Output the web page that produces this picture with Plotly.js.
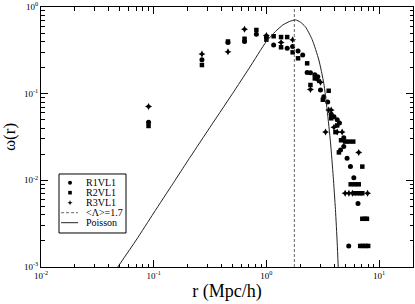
<!DOCTYPE html>
<html>
<head>
<meta charset="utf-8">
<script src="https://cdn.plot.ly/plotly-3.0.1.min.js"></script>
<style>html,body{margin:0;padding:0;background:#fff;}#chart{width:415px;height:304px;}</style>
</head>
<body>
<div id="chart"></div>
<script>
// ---- data ----
const seriesNames = ["R1VL1", "R2VL1", "R3VL1", "&lt;Λ&gt;=1.7", "Poisson"];

const r1_x = [0.09, 0.268, 0.456, 0.64, 0.815, 1.0, 1.16, 1.53, 1.71, 1.91, 2.1, 2.3, 2.46, 2.69, 2.86, 3.02, 3.23, 3.5, 3.76, 3.98, 4.25, 4.45, 4.55, 4.86, 4.86, 5.2, 5.57, 5.97, 6.5, 5.38];
const r1_y = [0.0467, 0.247, 0.39, 0.40, 0.484, 0.45, 0.365, 0.334, 0.35, 0.31, 0.28, 0.175, 0.174, 0.165, 0.157, 0.11, 0.092, 0.08, 0.058, 0.054, 0.05, 0.046, 0.0224, 0.031, 0.0245, 0.018, 0.0144, 0.0107, 0.0054, 0.00175];

const r2_x = [0.09, 0.268, 0.456, 0.64, 0.815, 1.0, 1.16, 1.35, 1.35, 1.53, 1.71, 1.91, 2.3, 2.46, 2.69, 3.17, 3.57, 3.76, 4.1, 4.25, 4.4, 4.6, 5.0, 5.4, 5.9, 5.6, 6.1, 6.6, 6.0, 6.4, 6.8, 7.1, 7.1, 7.1, 7.5, 7.8, 6.8, 7.2, 7.6, 8.0];
const r2_y = [0.0424, 0.214, 0.40, 0.43, 0.543, 0.42, 0.46, 0.45, 0.343, 0.45, 0.30, 0.256, 0.224, 0.126, 0.15, 0.085, 0.108, 0.052, 0.036, 0.043, 0.021, 0.029, 0.028, 0.028, 0.028, 0.009, 0.009, 0.009, 0.0071, 0.0071, 0.0071, 0.0071, 0.0144, 0.0036, 0.0036, 0.0036, 0.00175, 0.00175, 0.00175, 0.00175];

const r3_x = [0.09, 0.268, 0.456, 0.64, 1.0, 1.35, 1.71, 2.46, 2.86, 3.02, 3.35, 3.57, 3.76, 3.98, 4.25, 4.7, 5.0, 5.4, 5.81, 6.6, 7.9];
const r3_y = [0.071, 0.287, 0.305, 0.552, 0.47, 0.39, 0.42, 0.112, 0.144, 0.135, 0.036, 0.065, 0.065, 0.041, 0.036, 0.036, 0.0071, 0.0071, 0.0071, 0.021, 0.0071];

const lambdaMean = 1.77;
const lambdaSpan = [0.001, 1];

const poisson_x = [0.048, 0.07, 0.1, 0.15, 0.2, 0.3, 0.5, 0.7, 1.0, 1.2, 1.4, 1.6, 1.81, 2.0, 2.22, 2.55, 2.92, 3.23, 3.46, 3.71, 3.92, 4.1, 4.25, 4.34];
const poisson_y = [0.001, 0.00205, 0.0042, 0.0094, 0.0167, 0.037, 0.1, 0.195, 0.40, 0.52, 0.62, 0.68, 0.71, 0.67, 0.59, 0.42, 0.245, 0.132, 0.065, 0.027, 0.011, 0.0046, 0.0019, 0.001];

const xTickVals = [0.01, 0.1, 1, 10];
const xTickText = ["10<sup>-2</sup>", "10<sup>-1</sup>", "10<sup>0</sup>", "10<sup>1</sup>"];
const yTickVals = [0.001, 0.01, 0.1, 1];
const yTickText = ["10<sup>-3</sup>", "10<sup>-2</sup>", "10<sup>-1</sup>", "10<sup>0</sup>"];

// ---- traces ----
const FONT = "Liberation Serif, Times New Roman, serif";
const traces = [
  {x: r1_x, y: r1_y, mode: "markers", type: "scatter", name: seriesNames[0],
   marker: {symbol: "circle", size: 5, color: "#000"}},
  {x: r2_x, y: r2_y, mode: "markers", type: "scatter", name: seriesNames[1],
   marker: {symbol: "square", size: 4.5, color: "#000"}},
  {x: r3_x, y: r3_y, mode: "markers", type: "scatter", name: seriesNames[2],
   marker: {symbol: "star-diamond", size: 5, color: "#000"}},
  {x: [lambdaMean, lambdaMean], y: lambdaSpan, mode: "lines", type: "scatter", name: seriesNames[3],
   line: {color: "#666", width: 1, dash: "3px,2px"}},
  {x: poisson_x, y: poisson_y, mode: "lines", type: "scatter", name: seriesNames[4],
   line: {color: "#222", width: 1, shape: "spline", smoothing: 0.6}}
];

// ---- manual legend (box, glyphs, labels) ----
const rowsY = [0.3242, 0.2858, 0.2473, 0.2088, 0.1704];
const glyphX = 0.078, textX = 0.116;
const shapes = [
  {type: "rect", xref: "paper", yref: "paper", x0: 0.0484, x1: 0.2285, y0: 0.1308, y1: 0.3577,
   line: {color: "#000", width: 1}, fillcolor: "#fff", layer: "above"},
  {type: "circle", xref: "paper", yref: "paper", xsizemode: "pixel", ysizemode: "pixel",
   xanchor: glyphX, yanchor: rowsY[0], x0: -2, x1: 2, y0: -2, y1: 2,
   fillcolor: "#000", line: {width: 0}, layer: "above"},
  {type: "rect", xref: "paper", yref: "paper", xsizemode: "pixel", ysizemode: "pixel",
   xanchor: glyphX, yanchor: rowsY[1], x0: -1.8, x1: 1.8, y0: -1.8, y1: 1.8,
   fillcolor: "#000", line: {width: 0}, layer: "above"},
  {type: "path", xref: "paper", yref: "paper", xsizemode: "pixel", ysizemode: "pixel",
   xanchor: glyphX, yanchor: rowsY[2],
   path: "M0,-2.6 L0.7,-0.7 L2.6,0 L0.7,0.7 L0,2.6 L-0.7,0.7 L-2.6,0 L-0.7,-0.7 Z",
   fillcolor: "#000", line: {width: 0}, layer: "above"},
  {type: "line", xref: "paper", yref: "paper", x0: 0.054, x1: 0.0995, y0: rowsY[3], y1: rowsY[3],
   line: {color: "#666", width: 1, dash: "3px,2px"}, layer: "above"},
  {type: "line", xref: "paper", yref: "paper", x0: 0.054, x1: 0.0995, y0: rowsY[4], y1: rowsY[4],
   line: {color: "#222", width: 1}, layer: "above"}
];
const annotations = seriesNames.map((n, i) => ({
  xref: "paper", yref: "paper", x: textX, y: rowsY[i], xanchor: "left", yanchor: "middle",
  text: n, showarrow: false, font: {family: FONT, size: 10, color: "#000"}
}));

const axisCommon = {
  type: "log", showgrid: false, zeroline: false,
  showline: true, linecolor: "#000", linewidth: 1, mirror: "allticks",
  ticks: "inside", ticklen: 7, tickcolor: "#000", tickwidth: 1,
  tickmode: "array",
  tickfont: {family: FONT, size: 9, color: "#000"},
  minor: {ticks: "inside", ticklen: 3.5, tickcolor: "#000", tickwidth: 1, dtick: "D1", showgrid: false}
};

const layout = {
  width: 415, height: 304,
  margin: {l: 41, r: 2, t: 7, b: 37},
  paper_bgcolor: "#fff", plot_bgcolor: "#fff",
  showlegend: false,
  font: {family: FONT, color: "#000"},
  xaxis: Object.assign({}, axisCommon, {
    range: [-2, Math.log10(20)], tickvals: xTickVals, ticktext: xTickText,
    title: {text: "r (Mpc/h)", font: {family: FONT, size: 18, color: "#000"}, standoff: 4}
  }),
  yaxis: Object.assign({}, axisCommon, {
    range: [-3, 0], tickvals: yTickVals, ticktext: yTickText,
    title: {text: "ω(r)", font: {family: FONT, size: 17, color: "#000"}, standoff: 6}
  }),
  shapes: shapes,
  annotations: annotations
};

Plotly.newPlot("chart", traces, layout, {staticPlot: true, displayModeBar: false});
</script>
</body>
</html>
